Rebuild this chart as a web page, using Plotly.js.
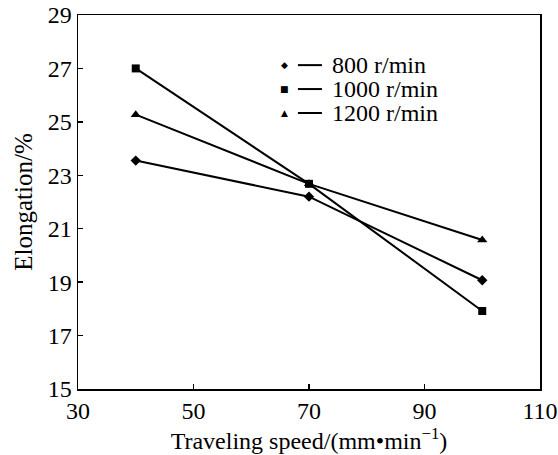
<!DOCTYPE html>
<html>
<head>
<meta charset="utf-8">
<script src="https://cdn.plot.ly/plotly-3.0.1.min.js"></script>
<style>html,body{margin:0;padding:0;background:#fff;}#chart{width:558px;height:455px;}</style>
</head>
<body>
<div id="chart"></div>
<script>
const speeds = [40, 70, 100];
const elong800 = [23.55, 22.2, 19.07];
const elong1000 = [27.0, 22.68, 17.92];
const elong1200 = [25.27, 22.68, 20.58];
const seriesNames = ["800 r/min", "1000 r/min", "1200 r/min"];
const xTicks = [30, 50, 70, 90, 110];
const yTicks = [15, 17, 19, 21, 23, 25, 27, 29];

const FONT = "Liberation Serif, Times New Roman, serif";
const symbols = ["diamond", "square", "triangle-up"];
const sizes = [8, 8, 9];
const seriesData = [elong800, elong1000, elong1200];

const traces = seriesData.map((ys, i) => ({
  x: speeds, y: ys, type: "scatter", mode: "lines+markers",
  name: seriesNames[i], showlegend: false,
  line: {color: "#000", width: 2},
  marker: {symbol: symbols[i], size: sizes[i], color: "#000"}
}));

// legend built with annotations and shapes in paper coordinates
const legendGlyphs = ["◆", "■", "▲"];
const legendY = [0.866, 0.802, 0.738];
const annotations = [];
const shapes = [];
seriesNames.forEach((n, i) => {
  annotations.push({xref: "paper", yref: "paper", x: 0.448, y: legendY[i], text: legendGlyphs[i],
    showarrow: false, xanchor: "center", yanchor: "middle",
    font: {family: "DejaVu Sans", size: 9, color: "#000"}});
  annotations.push({xref: "paper", yref: "paper", x: 0.545, y: legendY[i], text: n,
    showarrow: false, xanchor: "left", yanchor: "middle",
    font: {family: FONT, size: 24, color: "#000"}});
  shapes.push({type: "line", xref: "paper", yref: "paper", x0: 0.476, x1: 0.528, y0: legendY[i], y1: legendY[i],
    line: {color: "#000", width: 2}});
});

const layout = {
  width: 558, height: 455,
  margin: {l: 78, r: 18, t: 15, b: 66},
  paper_bgcolor: "#fff", plot_bgcolor: "#fff",
  font: {family: FONT, size: 24, color: "#000"},
  xaxis: {
    range: [30, 110], tickvals: xTicks, ticktext: xTicks.map(String),
    ticks: "inside", ticklen: 5, tickwidth: 1.5, tickcolor: "#000",
    showline: true, linecolor: "#000", linewidth: 1.5, mirror: true,
    showgrid: false, zeroline: false,
    tickfont: {family: FONT, size: 24, color: "#000"},
    title: {text: "Traveling speed/(mm•min<sup>−1</sup>)", font: {family: FONT, size: 24, color: "#000"}, standoff: 3}
  },
  yaxis: {
    range: [15, 29], tickvals: yTicks, ticktext: yTicks.map(String),
    ticks: "inside", ticklen: 5, tickwidth: 1.5, tickcolor: "#000",
    showline: true, linecolor: "#000", linewidth: 1.5, mirror: true,
    showgrid: false, zeroline: false,
    tickfont: {family: FONT, size: 24, color: "#000"},
    title: {text: "Elongation/%", font: {family: FONT, size: 25, color: "#000"}, standoff: 8}
  },
  annotations: annotations,
  shapes: shapes
};

Plotly.newPlot("chart", traces, layout, {displayModeBar: false, staticPlot: true});
</script>
</body>
</html>
